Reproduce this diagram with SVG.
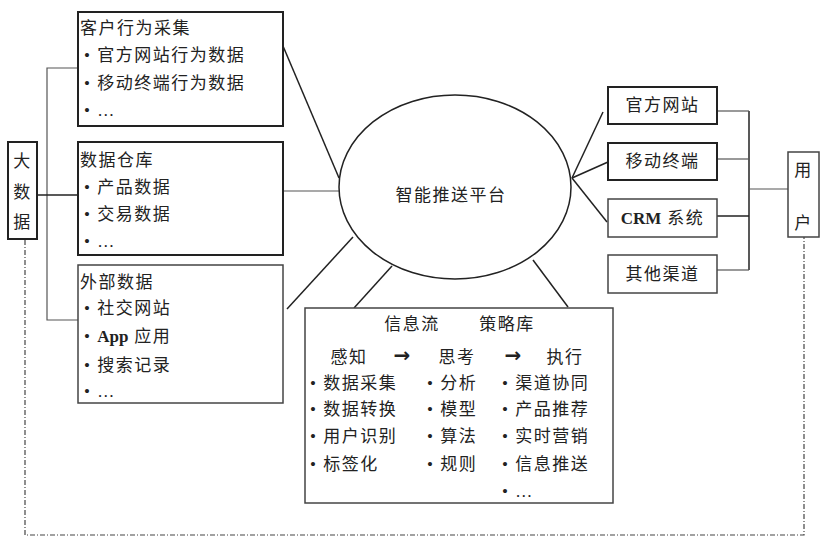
<svg xmlns="http://www.w3.org/2000/svg" width="832" height="546" viewBox="0 0 832 546">
<style>
.t{font-family:"Liberation Serif","Noto Sans CJK SC",serif;fill:#222;font-size:17px;letter-spacing:1.5px}
.ar{font-family:"DejaVu Sans",sans-serif;fill:#222;font-size:20px;font-weight:bold}
.b{fill:#fff;stroke:#222;stroke-width:2}
.bt{fill:#fff;stroke:#444;stroke-width:1.5}
.l{stroke:#222;stroke-width:1.5;fill:none}
.g{stroke:#555;stroke-width:1.2;fill:none}
.d{stroke:#444;stroke-width:1.2;fill:none;stroke-dasharray:5 2 1 2}
</style>
<rect width="832" height="546" fill="#fff"/>
<g id="connectors">
<polyline class="g" points="78,68 47,68 47,320 78,320"/>
<line class="l" x1="37" y1="195" x2="78" y2="195"/>
<line class="l" x1="283" y1="46" x2="339" y2="178"/>
<line class="g" x1="283" y1="191" x2="339" y2="191"/>
<line class="l" x1="287" y1="309" x2="353" y2="237"/>
<line class="l" x1="354" y1="308" x2="392" y2="266"/>
<line class="l" x1="533" y1="260" x2="568" y2="307"/>
<line class="l" x1="572" y1="178" x2="603" y2="112"/>
<line class="l" x1="572" y1="178" x2="608" y2="162"/>
<line class="l" x1="572" y1="178" x2="607" y2="222"/>
<line class="l" x1="749" y1="111" x2="749" y2="270"/>
<line class="g" x1="717" y1="111" x2="749" y2="111"/>
<line class="g" x1="717" y1="159" x2="749" y2="159"/>
<line class="l" x1="717" y1="216" x2="749" y2="216"/>
<line class="g" x1="717" y1="270" x2="749" y2="270"/>
<line class="g" x1="749" y1="189" x2="788" y2="189"/>
<polyline class="d" points="25,240 25,535 804,535 804,237"/>
</g>
<g id="bigdata">
<rect class="b" x="8" y="142" width="29" height="97"/>
<text class="t" x="22.5" y="167" text-anchor="middle">大</text>
<text class="t" x="22.5" y="198" text-anchor="middle">数</text>
<text class="t" x="22.5" y="228" text-anchor="middle">据</text>
</g>
<g id="box1">
<rect class="b" x="78" y="12" width="205" height="114"/>
<text class="t" x="80" y="34">客户行为采集</text>
<text class="t" x="84" y="61">• 官方网站行为数据</text>
<text class="t" x="84" y="89">• 移动终端行为数据</text>
<text class="t" x="84" y="116">• …</text>
</g>
<g id="box2">
<rect class="b" x="78" y="142" width="205" height="113"/>
<text class="t" x="80" y="166">数据仓库</text>
<text class="t" x="84" y="193">• 产品数据</text>
<text class="t" x="84" y="220">• 交易数据</text>
<text class="t" x="84" y="247">• …</text>
</g>
<g id="box3">
<rect class="bt" x="78" y="265" width="205" height="138"/>
<text class="t" x="80" y="288">外部数据</text>
<text class="t" x="84" y="314">• 社交网站</text>
<text class="t" x="84" y="342">• <tspan font-weight="bold" letter-spacing="0">App</tspan> 应用</text>
<text class="t" x="84" y="371">• 搜索记录</text>
<text class="t" x="84" y="397">• …</text>
</g>
<g id="platform">
<ellipse class="l" cx="455" cy="187" rx="116" ry="92" fill="#fff"/>
<text class="t" x="451" y="201" text-anchor="middle" font-size="18">智能推送平台</text>
</g>
<g id="process">
<rect class="bt" x="305" y="308" width="308" height="195"/>
<text class="t" x="412" y="330" text-anchor="middle" font-size="14">信息流</text>
<text class="t" x="507" y="330" text-anchor="middle" font-size="14">策略库</text>
<text class="t" x="349" y="363" text-anchor="middle" font-size="21">感知</text>
<text class="ar" x="402" y="362" text-anchor="middle">→</text>
<text class="t" x="457" y="363" text-anchor="middle" font-size="21">思考</text>
<text class="ar" x="513" y="362" text-anchor="middle">→</text>
<text class="t" x="565" y="363" text-anchor="middle" font-size="21">执行</text>
<text class="t" x="310" y="389">• 数据采集</text>
<text class="t" x="310" y="415">• 数据转换</text>
<text class="t" x="310" y="442">• 用户识别</text>
<text class="t" x="310" y="470">• 标签化</text>
<text class="t" x="427" y="389">• 分析</text>
<text class="t" x="427" y="415">• 模型</text>
<text class="t" x="427" y="442">• 算法</text>
<text class="t" x="427" y="470">• 规则</text>
<text class="t" x="502" y="389">• 渠道协同</text>
<text class="t" x="502" y="415">• 产品推荐</text>
<text class="t" x="502" y="442">• 实时营销</text>
<text class="t" x="502" y="470">• 信息推送</text>
<text class="t" x="502" y="497">• …</text>
</g>
<g id="ch1">
<rect class="b" x="608" y="87" width="109" height="37"/>
<text class="t" x="662.5" y="111" text-anchor="middle">官方网站</text>
</g>
<g id="ch2">
<rect class="b" x="608" y="143" width="109" height="37"/>
<text class="t" x="662.5" y="167" text-anchor="middle">移动终端</text>
</g>
<g id="ch3">
<rect class="bt" x="608" y="199" width="109" height="38"/>
<text class="t" x="662.5" y="224" text-anchor="middle"><tspan font-weight="bold" letter-spacing="0">CRM</tspan> 系统</text>
</g>
<g id="ch4">
<rect class="bt" x="608" y="255" width="109" height="38"/>
<text class="t" x="662.5" y="280" text-anchor="middle">其他渠道</text>
</g>
<g id="user">
<rect class="bt" x="788" y="152" width="31" height="85"/>
<text class="t" x="803.5" y="176" text-anchor="middle">用</text>
<text class="t" x="803.5" y="229" text-anchor="middle">户</text>
</g>
</svg>
